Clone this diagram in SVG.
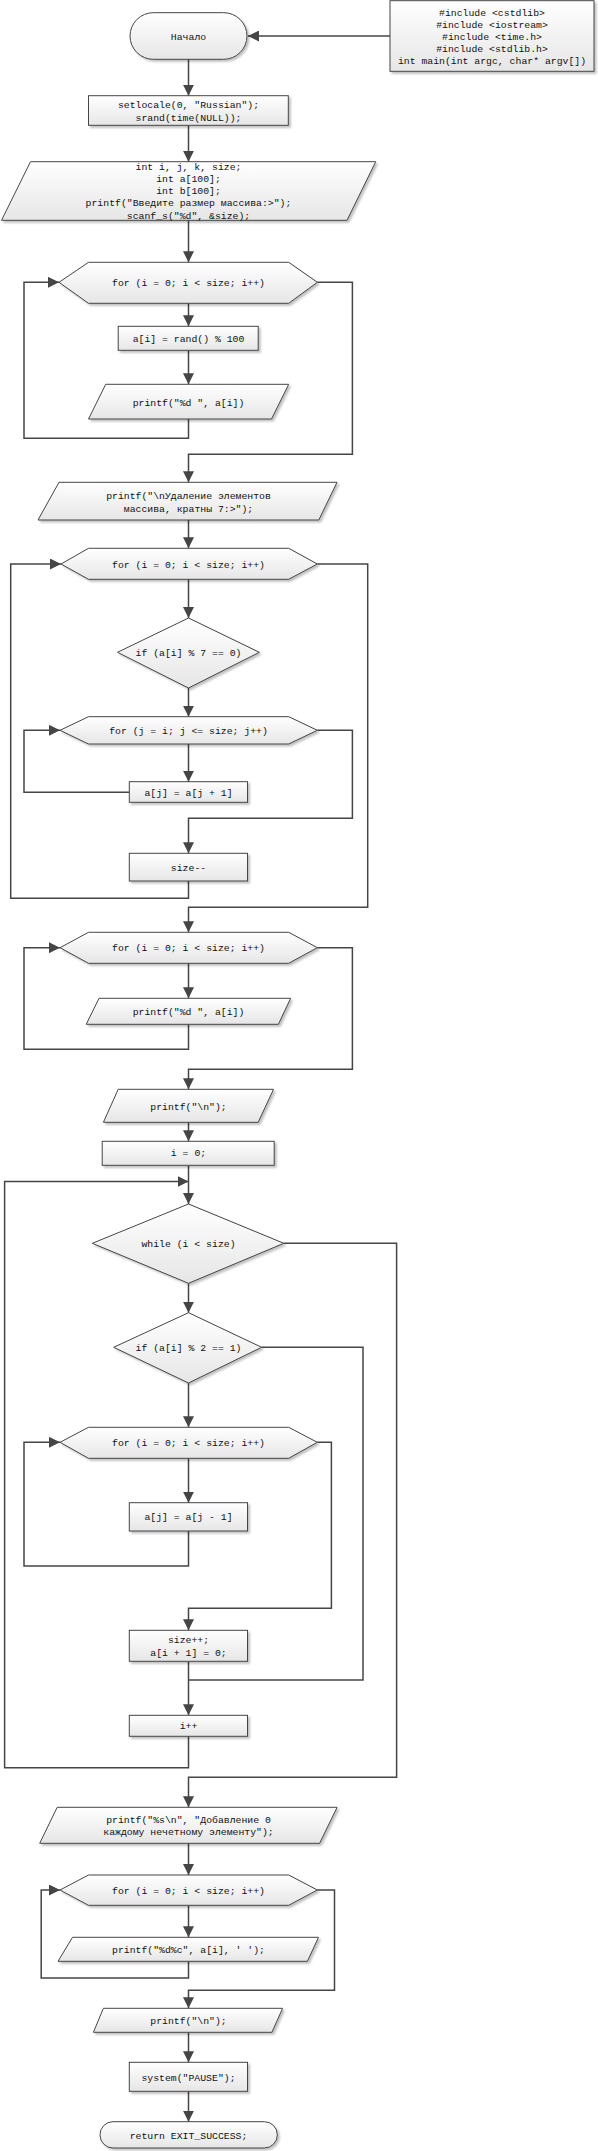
<svg xmlns="http://www.w3.org/2000/svg" width="598" height="2151" viewBox="0 0 598 2151">
<style>
.n{fill:url(#g);stroke:#454545;stroke-width:1;filter:url(#sh)}
.t{font-family:"Liberation Mono","DejaVu Sans Mono",monospace;font-size:9.8px;fill:#111;text-anchor:middle}
.c{fill:none;stroke:#454545;stroke-width:1.5}
.a{marker-end:url(#ar)}
</style>
<defs>
<linearGradient id="g" x1="0" y1="0" x2="0" y2="1">
<stop offset="0" stop-color="#ffffff"/>
<stop offset="1" stop-color="#e6e6e6"/>
</linearGradient>
<filter id="sh" x="-10%" y="-10%" width="130%" height="140%">
<feGaussianBlur in="SourceAlpha" stdDeviation="1"/>
<feOffset dx="2" dy="2" result="b"/>
<feComponentTransfer><feFuncA type="linear" slope="0.25"/></feComponentTransfer>
<feMerge><feMergeNode/><feMergeNode in="SourceGraphic"/></feMerge>
</filter>
<marker id="ar" markerUnits="userSpaceOnUse" markerWidth="12" markerHeight="11" viewBox="0 0 12 11" refX="11" refY="5.5" orient="auto">
<path d="M0,0 L11,5.5 L0,11 z" fill="#454545"/>
</marker>
</defs>
<rect width="598" height="2151" fill="#ffffff"/>
<g id="connectors">
<path class="c a" d="M390,36 H248"/>
<path class="c a" d="M188.5,59.3 V95.7"/>
<path class="c a" d="M188.5,125.3 V161.7"/>
<path class="c a" d="M188.5,220.3 V262.3"/>
<path class="c a" d="M188.5,303.3 V326.3"/>
<path class="c a" d="M188.5,350.3 V384.3"/>
<path class="c a" d="M188.5,419 V438.3 H24 V282.3 H59"/>
<path class="c a" d="M317.3,282.3 H352.4 V454.3 H188.5 V482.3"/>
<path class="c a" d="M188.5,520 V548.3"/>
<path class="c a" d="M188.5,579.3 V618"/>
<path class="c a" d="M188.5,688 V716.7"/>
<path class="c a" d="M188.5,744 V781.7"/>
<path class="c a" d="M129.3,792.3 H24 V730.3 H60"/>
<path class="c a" d="M317.3,730.3 H352.4 V818.3 H188.5 V853.3"/>
<path class="c a" d="M188.5,881 V898.3 H10.7 V564 H61"/>
<path class="c a" d="M317.3,564 H367.7 V907.3 H188.5 V932.3"/>
<path class="c a" d="M188.5,963.3 V998.3"/>
<path class="c a" d="M188.5,1024.3 V1049.3 H24 V947.7 H60"/>
<path class="c a" d="M317.3,947.7 H352.4 V1069.3 H188.5 V1089.3"/>
<path class="c a" d="M188.5,1122.3 V1141.3"/>
<path class="c a" d="M188.5,1165.3 V1204"/>
<path class="c a" d="M188.5,1736.3 V1767.7 H4.6 V1181.5 H188.5"/>
<path class="c a" d="M188.5,1283.3 V1312.7"/>
<path class="c a" d="M188.5,1383 V1427.3"/>
<path class="c a" d="M188.5,1458.3 V1502.7"/>
<path class="c a" d="M188.5,1531 V1566 H24 V1442.3 H60"/>
<path class="c a" d="M317.3,1442.3 H331.4 V1608.3 H188.5 V1630.3"/>
<path class="c a" d="M188.5,1661.3 V1715.3"/>
<path class="c" d="M261.6,1347.3 H363 V1680 H188.5"/>
<path class="c a" d="M283.8,1243.3 H396.6 V1777.3 H188.5 V1807.3"/>
<path class="c a" d="M188.5,1843.3 V1875"/>
<path class="c a" d="M188.5,1905.3 V1937.3"/>
<path class="c a" d="M188.5,1961.3 V1978 H41.2 V1890 H60"/>
<path class="c a" d="M317.3,1890 H334.5 V1990.3 H188.5 V2008.3"/>
<path class="c a" d="M188.5,2032.3 V2062.3"/>
<path class="c a" d="M188.5,2091.3 V2121.7"/>
</g>
<g id="start">
<rect class="n" x="130" y="12.7" width="117" height="46.6" rx="23.3"/>
<text class="t" x="188.5" y="39.5">Начало</text>
</g>
<g id="includes">
<rect class="n" x="390" y="0.7" width="204" height="70.6"/>
<text class="t" x="492" y="15.5">#include &lt;cstdlib&gt;</text>
<text class="t" x="492" y="27.5">#include &lt;iostream&gt;</text>
<text class="t" x="492" y="39.5">#include &lt;time.h&gt;</text>
<text class="t" x="492" y="51.5">#include &lt;stdlib.h&gt;</text>
<text class="t" x="492" y="63.8">int main(int argc, char* argv[])</text>
</g>
<g id="setlocale">
<rect class="n" x="88.5" y="95.7" width="199.8" height="29.6"/>
<text class="t" x="188.5" y="107.8">setlocale(0, "Russian");</text>
<text class="t" x="188.5" y="120.5">srand(time(NULL));</text>
</g>
<g id="decl">
<polygon class="n" points="30.5,161.7 375.7,161.7 347,220.3 1.5,220.3"/>
<text class="t" x="188.5" y="170.2">int i, j, k, size;</text>
<text class="t" x="188.5" y="182.2">int a[100];</text>
<text class="t" x="188.5" y="194.2">int b[100];</text>
<text class="t" x="188.5" y="206.2">printf("Введите размер массива:&gt;");</text>
<text class="t" x="188.5" y="218.5">scanf_s("%d", &amp;size);</text>
</g>
<g id="for1">
<polygon class="n" points="59,282.3 88.5,262.3 288.7,262.3 317.3,282.3 288.7,303.3 88.5,303.3"/>
<text class="t" x="188.5" y="285.8">for (i = 0; i &lt; size; i++)</text>
</g>
<g id="rand">
<rect class="n" x="118.2" y="326.3" width="140" height="24"/>
<text class="t" x="188.5" y="341.5">a[i] = rand() % 100</text>
</g>
<g id="print1">
<polygon class="n" points="105.7,384.3 288.7,384.3 271.5,419 88.5,419"/>
<text class="t" x="188.5" y="405.8">printf("%d ", a[i])</text>
</g>
<g id="print2">
<polygon class="n" points="59,482.3 337,482.3 318.8,520 38,520"/>
<text class="t" x="188.5" y="498.8">printf("\nУдаление элементов</text>
<text class="t" x="188.5" y="511.5">массива, кратны 7:&gt;");</text>
</g>
<g id="for2">
<polygon class="n" points="61,564 88.5,548.3 288.7,548.3 317.3,564 288.7,579.3 88.5,579.3"/>
<text class="t" x="188.5" y="567.5">for (i = 0; i &lt; size; i++)</text>
</g>
<g id="if7">
<polygon class="n" points="188.5,618 259.3,652.3 188.5,688 117.5,652.3"/>
<text class="t" x="188.5" y="655.8">if (a[i] % 7 == 0)</text>
</g>
<g id="forj">
<polygon class="n" points="60,730.3 88.5,716.7 288.7,716.7 317.3,730.3 288.7,744 88.5,744"/>
<text class="t" x="188.5" y="733.8">for (j = i; j &lt;= size; j++)</text>
</g>
<g id="shift1">
<rect class="n" x="129.3" y="781.7" width="118.2" height="20.6"/>
<text class="t" x="188.5" y="795.5">a[j] = a[j + 1]</text>
</g>
<g id="sizedec">
<rect class="n" x="129.3" y="853.3" width="118.2" height="27.7"/>
<text class="t" x="188.5" y="870.8">size--</text>
</g>
<g id="for3">
<polygon class="n" points="60,947.7 88.5,932.3 288.7,932.3 317.3,947.7 288.7,963.3 88.5,963.3"/>
<text class="t" x="188.5" y="951.2">for (i = 0; i &lt; size; i++)</text>
</g>
<g id="print3">
<polygon class="n" points="99,998.3 290.6,998.3 278.4,1024.3 86.2,1024.3"/>
<text class="t" x="188.5" y="1014.8">printf("%d ", a[i])</text>
</g>
<g id="print4">
<polygon class="n" points="118.2,1089.3 273.5,1089.3 258.2,1122.3 103.4,1122.3"/>
<text class="t" x="188.5" y="1109.5">printf("\n");</text>
</g>
<g id="izero">
<rect class="n" x="102.2" y="1141.3" width="172" height="24"/>
<text class="t" x="188.5" y="1156.2">i = 0;</text>
</g>
<g id="while">
<polygon class="n" points="188.5,1204 283.8,1243.3 188.5,1283.3 92.3,1243.3"/>
<text class="t" x="188.5" y="1246.8">while (i &lt; size)</text>
</g>
<g id="if2">
<polygon class="n" points="188.5,1312.7 261.6,1347.3 188.5,1383 113.7,1347.3"/>
<text class="t" x="188.5" y="1350.8">if (a[i] % 2 == 1)</text>
</g>
<g id="for4">
<polygon class="n" points="60,1442.3 88.5,1427.3 288.7,1427.3 317.3,1442.3 288.7,1458.3 88.5,1458.3"/>
<text class="t" x="188.5" y="1445.8">for (i = 0; i &lt; size; i++)</text>
</g>
<g id="shift2">
<rect class="n" x="129.3" y="1502.7" width="118.2" height="28.3"/>
<text class="t" x="188.5" y="1520.2">a[j] = a[j - 1]</text>
</g>
<g id="sizeinc">
<rect class="n" x="129.3" y="1630.3" width="118.2" height="31"/>
<text class="t" x="188.5" y="1642.8">size++;</text>
<text class="t" x="188.5" y="1655.5">a[i + 1] = 0;</text>
</g>
<g id="iinc">
<rect class="n" x="129.3" y="1715.3" width="118.2" height="21"/>
<text class="t" x="188.5" y="1729.2">i++</text>
</g>
<g id="print5">
<polygon class="n" points="57.2,1807.3 337.1,1807.3 319.6,1843.3 39.7,1843.3"/>
<text class="t" x="188.5" y="1822.8">printf("%s\n", "Добавление 0</text>
<text class="t" x="188.5" y="1835.2">каждому нечетному элементу");</text>
</g>
<g id="for5">
<polygon class="n" points="60,1890 88.5,1875 288.7,1875 317.3,1890 288.7,1905.3 88.5,1905.3"/>
<text class="t" x="188.5" y="1893.5">for (i = 0; i &lt; size; i++)</text>
</g>
<g id="print6">
<polygon class="n" points="72.5,1937.3 318.5,1937.3 307.4,1961.3 58,1961.3"/>
<text class="t" x="188.5" y="1952.8">printf("%d%c", a[i], ' ');</text>
</g>
<g id="print7">
<polygon class="n" points="103.4,2008.3 282.6,2008.3 271.9,2032.3 93.4,2032.3"/>
<text class="t" x="188.5" y="2023.8">printf("\n");</text>
</g>
<g id="pause">
<rect class="n" x="129.3" y="2062.3" width="118.2" height="29"/>
<text class="t" x="188.5" y="2080.5">system("PAUSE");</text>
</g>
<g id="end">
<rect class="n" x="100" y="2121.7" width="177.3" height="26.3" rx="13"/>
<text class="t" x="188.5" y="2138.5">return EXIT_SUCCESS;</text>
</g>
</svg>
